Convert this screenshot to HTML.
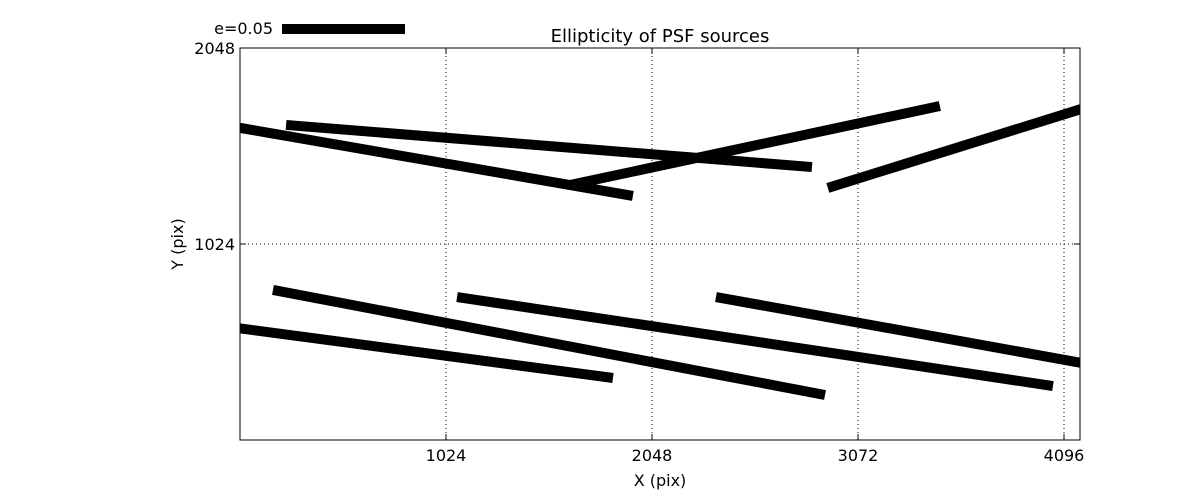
<!DOCTYPE html>
<html><head><meta charset="utf-8"><style>
body{margin:0;background:#fff;}
svg text{font-family:"DejaVu Sans","Liberation Sans",sans-serif;fill:#000;}
</style></head><body>
<svg width="1200" height="490" viewBox="0 0 1200 490">
<defs><clipPath id="pc"><rect x="240" y="48" width="840" height="392"/></clipPath></defs>
<rect x="0" y="0" width="1200" height="490" fill="#fff"/>
<g id="grid"></g>
<g id="marks" clip-path="url(#pc)"></g>
<rect x="240" y="48" width="840" height="392" fill="none" stroke="#000" stroke-width="1"/>
<g id="ticks"></g>
<text x="660" y="42" font-size="18" text-anchor="middle">Ellipticity of PSF sources</text>
<text x="660" y="486" font-size="16" text-anchor="middle">X (pix)</text>
<text x="183" y="244" font-size="16" text-anchor="middle" transform="rotate(-90 183 244)">Y (pix)</text>
<text x="273" y="34" font-size="16" text-anchor="end">e=0.05</text>
<line x1="282" y1="29" x2="405" y2="29" stroke="#000" stroke-width="10"/>
</svg>
<script>
const x1s=[-199,229,1640,2922,164,-199,1079,2366];
const y1s=[1667,1646,1332,1317,784,611,747,747];
const x2s=[1953,2843,3479,4324,2908,1854,4041,4324];
const y2s=[1275,1426,1745,1776,235,324,282,376];
const xTicks=[1024,2048,3072,4096];
const yTicks=[1024,2048];
const NS="http://www.w3.org/2000/svg";
const X=v=>240+v*(206/1024);
const Y=v=>440-v*(196/1024);
const marks=document.getElementById('marks'),grid=document.getElementById('grid'),ticks=document.getElementById('ticks');
function mk(tag,attrs,parent){const e=document.createElementNS(NS,tag);for(const k in attrs)e.setAttribute(k,attrs[k]);parent.appendChild(e);return e;}
for(let i=0;i<x1s.length;i++){
 const l=mk('line',{x1:X(x1s[i]),y1:Y(y1s[i]),x2:X(x2s[i]),y2:Y(y2s[i]),stroke:'#000','stroke-width':10},marks);
 
 
}
xTicks.forEach(t=>{
 const g=mk('line',{x1:X(t),y1:48,x2:X(t),y2:440,stroke:'#000','stroke-width':1,'stroke-dasharray':'1,3'},grid);
 
 
 mk('line',{x1:X(t),y1:440,x2:X(t),y2:434,stroke:'#000'},ticks);
 mk('line',{x1:X(t),y1:48,x2:X(t),y2:54,stroke:'#000'},ticks);
 const tx=mk('text',{x:X(t),y:461,'font-size':16,'text-anchor':'middle'},ticks);
 tx.textContent=t;
 
 
});
yTicks.forEach(t=>{
 const g=mk('line',{x1:240,y1:Y(t),x2:1080,y2:Y(t),stroke:'#000','stroke-width':1,'stroke-dasharray':'1,3'},grid);
 
 
 mk('line',{x1:240,y1:Y(t),x2:246,y2:Y(t),stroke:'#000'},ticks);
 mk('line',{x1:1080,y1:Y(t),x2:1074,y2:Y(t),stroke:'#000'},ticks);
 const tx=mk('text',{x:235,y:Y(t)+6,'font-size':16,'text-anchor':'end'},ticks);
 tx.textContent=t;
 
 
});
</script>
</body></html>
